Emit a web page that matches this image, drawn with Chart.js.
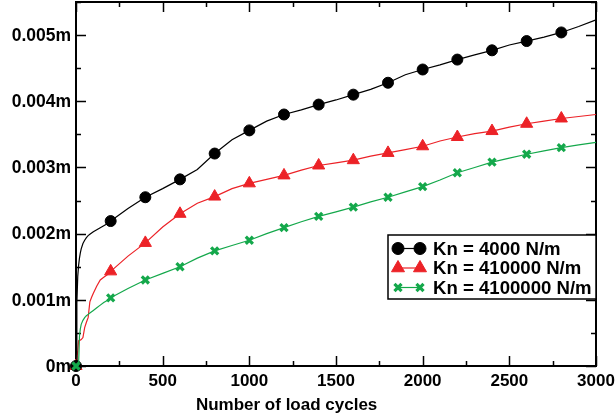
<!DOCTYPE html>
<html>
<head>
<meta charset="utf-8">
<script src="https://cdn.jsdelivr.net/npm/chart.js@4.4.1/dist/chart.umd.min.js"></script>
<style>
  html, body { margin: 0; padding: 0; background: #fff; }
</style>
</head>
<body>
<canvas id="chart" width="616" height="418"></canvas>
<script>
// load cycles (shared x values)
const cycles = [0, 5, 10, 15, 20, 25, 30, 40, 50, 60, 70, 80, 90, 100, 120, 140, 160, 180, 200,
  300, 400, 500, 600, 700, 800, 900, 1000, 1100, 1200, 1300, 1400, 1500, 1600, 1700, 1800, 1900,
  2000, 2100, 2200, 2300, 2400, 2500, 2600, 2700, 2800, 2900, 3000];
// cycles where a marker is drawn
const markerCycles = [0, 200, 400, 600, 800, 1000, 1200, 1400, 1600, 1800, 2000, 2200, 2400, 2600, 2800];

const seriesNames = ['Kn = 4000 N/m', 'Kn = 410000 N/m', 'Kn = 4100000 N/m'];

const kn4000 = [0, 0.00095, 0.00135, 0.00152, 0.00163, 0.00171, 0.00177, 0.00185, 0.00190, 0.00194,
  0.00197, 0.00199, 0.00201, 0.00203, 0.00206, 0.00209, 0.00212, 0.00215, 0.00219,
  0.00238, 0.00255, 0.00268, 0.00282, 0.00297, 0.00321, 0.00342, 0.00356, 0.00370, 0.00380, 0.00387,
  0.00395, 0.00402, 0.00410, 0.00418, 0.00428, 0.00440, 0.00448, 0.00455, 0.00463, 0.00470, 0.00477,
  0.00485, 0.00491, 0.00497, 0.00504, 0.00513, 0.00523];

const kn410000 = [0, 0.00012, 0.00022, 0.00038, 0.00039, 0.00039, 0.00040, 0.00043, 0.00058, 0.00066,
  0.00073, 0.00097, 0.00104, 0.00110, 0.00121, 0.00130, 0.00134, 0.00138, 0.00143,
  0.00166, 0.00186, 0.00210, 0.00230, 0.00246, 0.00256, 0.00268, 0.00276, 0.00282, 0.00288, 0.00296,
  0.00303, 0.00307, 0.00311, 0.00317, 0.00322, 0.00327, 0.00332, 0.00340, 0.00346, 0.00351, 0.00355,
  0.00361, 0.00366, 0.00370, 0.00374, 0.00377, 0.00380];

const kn4100000 = [0, 0, 0, 0.00002, 0.00045, 0.00056, 0.00063, 0.00069, 0.00073, 0.00076,
  0.00078, 0.00080, 0.00082, 0.00084, 0.00088, 0.00092, 0.00096, 0.00099, 0.00103,
  0.00117, 0.00130, 0.00140, 0.00150, 0.00163, 0.00174, 0.00182, 0.00190, 0.00200, 0.00209, 0.00218,
  0.00226, 0.00233, 0.00240, 0.00248, 0.00255, 0.00263, 0.00271, 0.00281, 0.00292, 0.00300, 0.00308,
  0.00314, 0.00320, 0.00325, 0.00330, 0.00334, 0.00338];

const xTickValues = [0, 500, 1000, 1500, 2000, 2500, 3000];
const xTickLabels = ['0', '500', '1000', '1500', '2000', '2500', '3000'];
const yTickValues = [0, 0.001, 0.002, 0.003, 0.004, 0.005];
const yTickLabels = ['0m', '0.001m', '0.002m', '0.003m', '0.004m', '0.005m'];

const FONT = '"Liberation Sans", Arial, sans-serif';
const RED = '#ec2227';
const GREEN = '#14a84b';

function toPoints(values) {
  return cycles.map((c, i) => ({ x: c, y: values[i] }));
}

function markerSize(r) {
  return (ctx) => markerCycles.includes(cycles[ctx.dataIndex]) ? r : 0;
}

// inward ticks on all four sides + frame + y labels
const frameTicks = {
  id: 'frameTicks',
  beforeDatasetsDraw(chart) {
    const { ctx, chartArea: a, scales: { x, y } } = chart;
    ctx.save();
    ctx.strokeStyle = '#000';
    ctx.lineWidth = 1.5;
    ctx.beginPath();
    for (let v = 0; v <= 3000; v += 250) {
      const px = Math.round(x.getPixelForValue(v)) + 0.5;
      const len = v % 500 === 0 ? 10 : 5;
      ctx.moveTo(px, a.bottom); ctx.lineTo(px, a.bottom - len);
      ctx.moveTo(px, a.top); ctx.lineTo(px, a.top + len);
    }
    for (let k = 0; k <= 11; k++) {
      const v = k * 0.0005;
      const py = Math.round(y.getPixelForValue(v)) + 0.5;
      const len = k % 2 === 0 ? 10 : 5;
      ctx.moveTo(a.left, py); ctx.lineTo(a.left + len, py);
      ctx.moveTo(a.right, py); ctx.lineTo(a.right - len, py);
    }
    ctx.stroke();
    ctx.lineWidth = 2;
    ctx.strokeRect(a.left, a.top, a.right - a.left, a.bottom - a.top);

    ctx.fillStyle = '#000';
    ctx.font = 'bold 17.5px ' + FONT;
    ctx.textAlign = 'right';
    ctx.textBaseline = 'middle';
    yTickValues.forEach((v, i) => {
      ctx.fillText(yTickLabels[i], a.left - 5, y.getPixelForValue(v) + 1);
    });
    ctx.restore();
  }
};

// x axis title and legend box inside the plot
const extras = {
  id: 'extras',
  afterDraw(chart) {
    const { ctx, chartArea: a } = chart;
    ctx.save();
    ctx.fillStyle = '#000';
    ctx.font = 'bold 17px ' + FONT;
    ctx.textAlign = 'center';
    ctx.textBaseline = 'middle';
    ctx.fillText('Number of load cycles', a.left + (a.right - a.left) * 0.405, 405);

    // legend
    const bx = 388, by = 235, bw = a.right - bx, bh = 64;
    ctx.fillStyle = '#fff';
    ctx.fillRect(bx, by, bw, bh);
    ctx.strokeStyle = '#000';
    ctx.lineWidth = 1.5;
    ctx.strokeRect(bx, by, bw, bh);
    ctx.font = 'bold 18.6px ' + FONT;
    ctx.textAlign = 'left';
    chart.data.datasets.forEach((ds, i) => {
      const ry = 248.5 + i * 19.5;
      ctx.strokeStyle = ds.borderColor;
      ctx.lineWidth = 1.2;
      ctx.beginPath();
      ctx.moveTo(398, ry); ctx.lineTo(420, ry);
      ctx.stroke();
      [398, 420].forEach(px => {
        ctx.fillStyle = ds.pointBackgroundColor;
        ctx.strokeStyle = ds.pointBorderColor;
        ctx.lineWidth = ds.pointBorderWidth;
        Chart.helpers.drawPoint(ctx, {
          pointStyle: ds.pointStyle, radius: ds.legendRadius, rotation: 0,
          borderWidth: ds.pointBorderWidth
        }, px, ry);
      });
      ctx.fillStyle = '#000';
      ctx.fillText(ds.label, 433, ry + 1);
    });
    ctx.restore();
  }
};

new Chart(document.getElementById('chart'), {
  type: 'line',
  data: {
    datasets: [
      {
        label: seriesNames[0], data: toPoints(kn4000), order: 1,
        borderColor: '#000', borderWidth: 1.2,
        pointStyle: 'circle', pointRadius: markerSize(5.5), legendRadius: 6,
        pointBackgroundColor: '#000', pointBorderColor: '#000', pointBorderWidth: 1
      },
      {
        label: seriesNames[1], data: toPoints(kn410000), order: 2,
        borderColor: RED, borderWidth: 1.2,
        pointStyle: 'triangle', pointRadius: markerSize(7), legendRadius: 7.5,
        pointBackgroundColor: RED, pointBorderColor: RED, pointBorderWidth: 1
      },
      {
        label: seriesNames[2], data: toPoints(kn4100000), order: 0,
        borderColor: GREEN, borderWidth: 1.2,
        pointStyle: 'crossRot', pointRadius: markerSize(5), legendRadius: 5,
        pointBackgroundColor: GREEN, pointBorderColor: GREEN, pointBorderWidth: 3.2
      }
    ]
  },
  options: {
    responsive: false,
    animation: false,
    clip: false,
    elements: { line: { tension: 0 }, point: { hoverRadius: 0 } },
    layout: { autoPadding: false, padding: { top: 2, right: 20, left: 0, bottom: 0 } },
    plugins: { legend: { display: false }, tooltip: { enabled: false } },
    scales: {
      x: {
        type: 'linear', min: 0, max: 3000,
        grid: { display: false, drawTicks: true, tickLength: 5 },
        border: { display: false },
        afterBuildTicks: (s) => { s.ticks = xTickValues.map(v => ({ value: v })); },
        afterFit: (s) => { s.height = 52; },
        ticks: {
          padding: 0, color: '#000', maxRotation: 0, autoSkip: false,
          font: { family: FONT, size: 17, weight: 'bold' },
          callback: (v) => xTickLabels[xTickValues.indexOf(v)]
        }
      },
      y: {
        type: 'linear', min: 0, max: 0.0055,
        grid: { display: false, drawTicks: false },
        border: { display: false },
        ticks: { display: false },
        afterFit: (s) => { s.width = 76; }
      }
    }
  },
  plugins: [frameTicks, extras]
});
</script>
</body>
</html>
